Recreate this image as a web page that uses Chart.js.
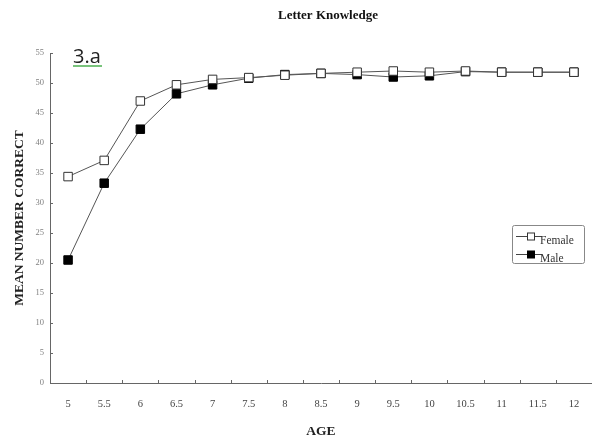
<!DOCTYPE html>
<html>
<head>
<meta charset="utf-8">
<script src="https://cdn.jsdelivr.net/npm/chart.js@4/dist/chart.umd.min.js"></script>
<style>
  html, body { margin: 0; padding: 0; background: #fff; }
  #wrap { width: 592px; height: 441px; position: relative; }
</style>
</head>
<body>
<div id="wrap"><canvas id="c"></canvas></div>
<script>
// Mean letters correct by age
const ages = ['5', '5.5', '6', '6.5', '7', '7.5', '8', '8.5', '9', '9.5', '10', '10.5', '11', '11.5', '12'];
const female = [34.4, 37.1, 47.0, 49.7, 50.6, 50.9, 51.3, 51.6, 51.8, 52.0, 51.8, 52.0, 51.8, 51.8, 51.8];
const male = [20.5, 33.3, 42.3, 48.2, 49.7, 50.8, 51.4, 51.6, 51.4, 51.0, 51.2, 51.9, 51.8, 51.8, 51.8];
const yTicks = [0, 5, 10, 15, 20, 25, 30, 35, 40, 45, 50, 55];

const SERIF = '"Liberation Serif", "DejaVu Serif", serif';

// Short inward tick marks on both axes
const innerTicks = {
  id: 'innerTicks',
  afterDatasetsDraw(chart) {
    const { ctx, chartArea: a, scales: { x, y } } = chart;
    ctx.save();
    ctx.strokeStyle = '#666';
    ctx.lineWidth = 1;
    ctx.beginPath();
    y.ticks.forEach((t, i) => {
      const py = Math.round(y.getPixelForTick(i)) + 0.5;
      ctx.moveTo(a.left, py);
      ctx.lineTo(a.left + 3, py);
    });
    const step = x.getPixelForValue(1) - x.getPixelForValue(0);
    for (let i = 0; i < ages.length - 1; i++) {
      const px = Math.round(x.getPixelForValue(i) + step / 2) + 0.5;
      ctx.moveTo(px, a.bottom);
      ctx.lineTo(px, a.bottom - 3);
    }
    ctx.stroke();
    ctx.restore();
  }
};

// Heading, panel label and the boxed legend
const decorations = {
  id: 'decorations',
  afterDraw(chart) {
    const { ctx } = chart;
    ctx.save();
    ctx.fillStyle = '#111';
    ctx.font = 'bold 13px ' + SERIF;
    ctx.textAlign = 'left';
    ctx.textBaseline = 'middle';
    ctx.fillText('Letter Knowledge', 278, 16);

    ctx.font = '20px "Open Sans", "Liberation Sans", sans-serif';
    ctx.textBaseline = 'alphabetic';
    ctx.fillStyle = '#222';
    ctx.fillText('3.a', 73, 63);
    ctx.strokeStyle = '#4caf50';
    ctx.lineWidth = 1.5;
    ctx.beginPath();
    ctx.moveTo(73, 66);
    ctx.lineTo(102, 66);
    ctx.stroke();

    // legend box
    const bx = 512.5, by = 225.5, bw = 72, bh = 38;
    ctx.strokeStyle = '#888';
    ctx.lineWidth = 1;
    ctx.beginPath();
    ctx.roundRect(bx, by, bw, bh, 2);
    ctx.stroke();
    const rows = [{ ds: chart.data.datasets[0], y: 236 }, { ds: chart.data.datasets[1], y: 254 }];
    rows.forEach(r => {
      ctx.strokeStyle = '#444';
      ctx.lineWidth = 1;
      ctx.beginPath();
      ctx.moveTo(516, r.y + 0.5);
      ctx.lineTo(542, r.y + 0.5);
      ctx.stroke();
      ctx.fillStyle = r.ds.pointBackgroundColor;
      ctx.strokeStyle = r.ds.pointBorderColor;
      ctx.fillRect(527.5, r.y - 3, 7, 7);
      ctx.strokeRect(527.5, r.y - 3, 7, 7);
      ctx.fillStyle = '#333';
      ctx.font = '11.5px ' + SERIF;
      ctx.textBaseline = 'middle';
      ctx.fillText(r.ds.label, 540, r.y + 5);
    });
    ctx.restore();
  }
};

new Chart(document.getElementById('c'), {
  type: 'line',
  data: {
    labels: ages,
    datasets: [
      {
        label: 'Female',
        data: female,
        borderColor: '#555',
        borderWidth: 1,
        pointStyle: 'rect',
        pointRadius: 6,
        pointBackgroundColor: '#fff',
        pointBorderColor: '#333',
        pointBorderWidth: 1,
        tension: 0
      },
      {
        label: 'Male',
        data: male,
        borderColor: '#555',
        borderWidth: 1,
        pointStyle: 'rect',
        pointRadius: 6,
        pointBackgroundColor: '#000',
        pointBorderColor: '#000',
        pointBorderWidth: 1,
        tension: 0
      }
    ]
  },
  options: {
    responsive: true,
    maintainAspectRatio: false,
    animation: false,
    layout: { autoPadding: false, padding: { top: 53, right: 0, bottom: 0, left: 0 } },
    plugins: {
      legend: { display: false },
      title: { display: false },
      tooltip: { enabled: false }
    },
    scales: {
      x: {
        type: 'category',
        offset: true,
        grid: { display: false, drawTicks: false },
        border: { display: true, color: '#666', width: 1 },
        ticks: {
          color: '#444',
          padding: 15,
          font: { family: SERIF, size: 10.5 },
          maxRotation: 0,
          autoSkip: false
        },
        title: {
          display: true,
          text: 'AGE',
          color: '#222',
          font: { family: SERIF, size: 13.5, weight: 'bold' },
          padding: { top: 0, bottom: 1 }
        },
        afterFit(s) { s.height = 58; s.paddingLeft = 0; s.paddingRight = 0; }
      },
      y: {
        min: 0,
        max: 55,
        afterBuildTicks(s) { s.ticks = yTicks.map(v => ({ value: v })); },
        grid: { display: false, drawTicks: false },
        border: { display: true, color: '#666', width: 1 },
        ticks: {
          color: '#808080',
          padding: 6,
          font: { family: SERIF, size: 8.5 }
        },
        title: {
          display: true,
          text: 'MEAN NUMBER CORRECT',
          color: '#222',
          font: { family: SERIF, size: 13.5, weight: 'bold' },
          padding: { top: 11, bottom: 0 }
        },
        afterFit(s) { s.width = 50; s.paddingTop = 0; s.paddingBottom = 0; }
      }
    }
  },
  plugins: [innerTicks, decorations]
});
</script>
</body>
</html>
